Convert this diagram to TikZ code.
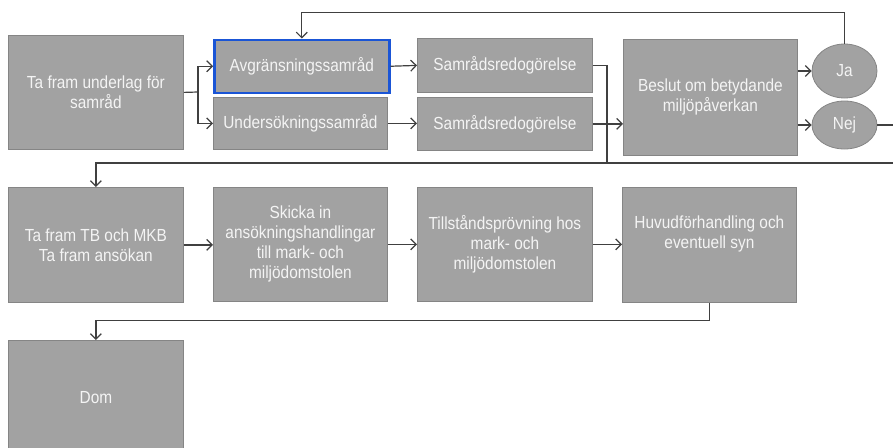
\documentclass[tikz,border=0pt]{standalone}
\usepackage{fontspec}
\usetikzlibrary{arrows.meta,shapes.geometric}
\newfontfamily\boxfont[FakeStretch=0.88]{Liberation Sans}
\definecolor{boxfill}{HTML}{A2A2A2}
\definecolor{boxborder}{HTML}{858585}
\definecolor{boxtext}{HTML}{F4F4F4}
\definecolor{linecol}{HTML}{404040}
\definecolor{selblue}{HTML}{1A55D6}
\tikzset{
  box/.style={draw=boxborder, fill=boxfill, text=boxtext, font={\boxfont\fontsize{17.5}{20}\selectfont},
    align=center, inner sep=0pt, anchor=north west, line width=0.8pt, rectangle},
  oval/.style={ellipse, draw=boxborder, fill=boxfill, text=boxtext, font={\boxfont\fontsize{17.5}{20}\selectfont},
    inner sep=0pt, line width=0.8pt},
  conn/.style={draw=linecol, line width=1.2pt},
  arr/.style={conn, -{Straight Barb[length=5.5pt,width=11pt]}}
}
\begin{document}
\begin{tikzpicture}[x=1pt,y=-1pt]
\useasboundingbox (0,0) rectangle (893,447);
\clip (0,0) rectangle (893,447);
% row 1
\node[box, minimum width=175pt, minimum height=114pt] (u) at (8,35) {Ta fram underlag för\\samråd};
\node[box, draw=selblue, line width=2.5pt, minimum width=175pt, minimum height=53pt] (a) at (213,38.5) {Avgränsningssamråd};
\node[box, minimum width=174pt, minimum height=52pt] (n) at (213,97) {Undersökningssamråd};
\node[box, minimum width=175pt, minimum height=54pt] (s1) at (417,38) {Samrådsredogörelse};
\node[box, minimum width=175pt, minimum height=53pt] (s2) at (417,97) {Samrådsredogörelse};
\node[box, minimum width=174pt, minimum height=116pt] (b) at (623,39) {Beslut om betydande\\miljöpåverkan};
\node[oval, minimum width=65pt, minimum height=54pt] (ja) at (844.5,71) {Ja};
\node[oval, minimum width=65pt, minimum height=48pt] (nej) at (844.5,125) {Nej};
% row 2
\node[box, minimum width=175pt, minimum height=115pt] (tb) at (8,187) {Ta fram TB och MKB\\Ta fram ansökan};
\node[box, minimum width=174pt, minimum height=114pt] (sk) at (213,187) {Skicka in\\ansökningshandlingar\\till mark- och\\miljödomstolen};
\node[box, minimum width=175pt, minimum height=114pt] (ti) at (417,187) {Tillståndsprövning hos\\mark- och\\miljödomstolen};
\node[box, minimum width=174pt, minimum height=115pt] (hu) at (622,187) {Huvudförhandling och\\eventuell syn\\\strut};
% row 3
\node[box, minimum width=175pt, minimum height=115pt] (dom) at (8,340) {Dom};
% connectors
\coordinate (fork) at (198,92);
\draw[conn] (u.east) -- (fork);
\draw[arr] (fork) |- (a.west);
\draw[arr] (fork) |- (n.west);
\draw[arr] (a.east) -- (s1.west);
\draw[arr] (n.east) -- (n.east -| s2.west);
\coordinate (sdown) at (607,163);
\draw[conn] (s1.east) -| (sdown);
\draw[arr] (s2.east) -- (s2.east -| b.west);
\draw[arr] (b.east |- ja) -- (ja.west);
\draw[arr] (b.east |- nej) -- (nej.west);
\draw[arr] (ja.north) -- ++(0,-31) -| (a.north);
\coordinate (rr) at (905,163);
\draw[arr] (nej.east) -| (rr) -| (tb.north);
\draw[arr] (tb.east) -- (tb.east -| sk.west);
\draw[arr] (sk.east) -- (sk.east -| ti.west);
\draw[arr] (ti.east) -- (ti.east -| hu.west);
\draw[arr] (hu.south) -- ++(0,18) -| (dom.north);
\end{tikzpicture}
\end{document}
